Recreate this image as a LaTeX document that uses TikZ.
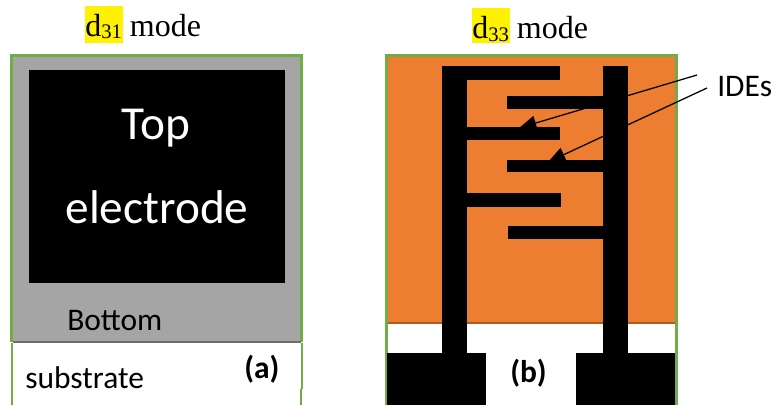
\documentclass[tikz,border=0pt]{standalone}
\usepackage{fontspec}
\setmainfont{Liberation Serif}
\newfontfamily\labfont{Carlito}
\usetikzlibrary{arrows.meta}
\definecolor{gframe}{HTML}{70AD47}
\definecolor{ggray}{HTML}{A5A5A5}
\definecolor{gorange}{HTML}{ED7D31}
\definecolor{gdkor}{HTML}{AE5A21}
\tikzset{
  x=0.75pt,y=-0.75pt,
  frameline/.style={draw=gframe,line width=1.65pt},
  metal/.style={fill=black,draw=none},
  title/.style={inner sep=0pt,anchor=base west,font=\fontsize{24}{28}\selectfont},
  lab/.style={inner sep=0pt,anchor=base west,font=\labfont\fontsize{23.6}{28}\selectfont},
  labbold/.style={inner sep=0pt,anchor=base west,font=\labfont\bfseries\fontsize{23.6}{28}\selectfont},
  big/.style={inner sep=0pt,anchor=base,text=white,font=\labfont\fontsize{35.5}{40}\selectfont},
  leader/.style={draw=black,line width=0.95pt,-{Triangle[length=13pt,width=11pt]}},
}
\newcommand{\hlbox}[3]{\fill[yellow] (#1,#2) rectangle (#1+38,#3);}
\newcommand{\subnum}[1]{\raisebox{-2.2pt}{\fontsize{15.5}{18}\selectfont #1}}
\begin{document}
\begin{tikzpicture}
\useasboundingbox (0,0) rectangle (775,405);
% panel a
\fill[ggray] (11,55) rectangle (302,342);
\fill[black] (28.5,69.5) rectangle (285,283);
\draw[frameline] (11.5,342) -- (11.5,55.5) -- (301.5,55.5) -- (301.5,342);
\draw[draw=gray!85!black,line width=1.1pt] (12.5,342) -- (300.5,342);
\draw[frameline] (12,343) -- (12,405) (302,343) -- (302,389) (301,389) -- (301,405);
% titles
\hlbox{85}{6}{43}
\node[title] (ta) at (85,36) {d\subnum{31}\hspace{6pt}mode};
\hlbox{472}{8}{43}
\node[title] (tb) at (472,38.5) {d\subnum{33}\hspace{6pt}mode};
% panel a text
\node[big] (top) at (156,139) {Top};
\node[big] (el) at (157,223) {electrode};
\node[lab] (bot) at (67,330) {Bottom};
\node[lab] (sub) at (25,388) {substrate};
\node[labbold] (a) at (244,378) {(a)};
% panel b
\fill[gorange] (387,57) rectangle (676,323);
\draw[draw=gdkor,line width=1pt] (387,323) -- (676,323);
\draw[frameline] (386.5,405) -- (386.5,55.5) -- (676.5,55.5) -- (676.5,405);
\begin{scope}
 \fill[metal] (442,66) rectangle (467,353);
 \fill[metal] (442,66) rectangle (560,80);
 \fill[metal] (467,126.5) rectangle (560,140);
 \fill[metal] (467,193) rectangle (561,207);
 \fill[metal] (603,66) rectangle (628,353);
 \fill[metal] (507,96) rectangle (603,109);
 \fill[metal] (507,160) rectangle (603,172);
 \fill[metal] (508,226) rectangle (603,239);
 \fill[metal] (387,353) rectangle (486,405);
 \fill[metal] (576,353) rectangle (675,405);
\end{scope}
\node[labbold] (b) at (510,382) {(b)};
\node[lab] (ides) at (717,96) {IDEs};
\coordinate (s1) at (697,75);
\coordinate (e1) at (519,128);
\coordinate (s2) at (707,88);
\coordinate (e2) at (548,162);
\draw[leader] (s1) -- (e1);
\draw[leader] (s2) -- (e2);
\end{tikzpicture}
\end{document}
